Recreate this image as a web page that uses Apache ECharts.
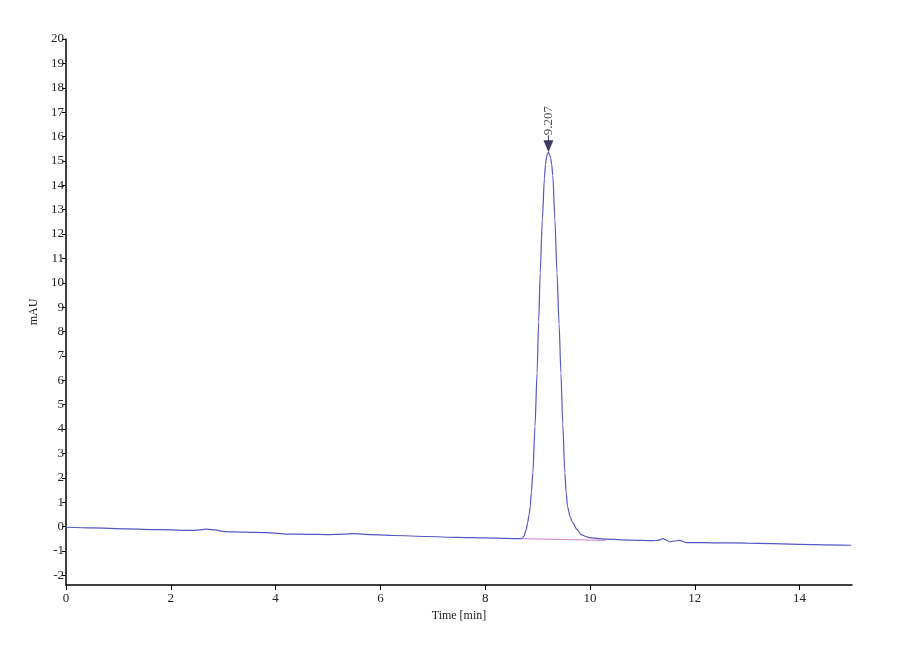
<!DOCTYPE html>
<html>
<head>
<meta charset="utf-8">
<script src="https://cdn.jsdelivr.net/npm/echarts@6/dist/echarts.min.js"></script>
<style>
html,body{margin:0;padding:0;background:#ffffff;}
#chart{width:900px;height:660px;}
</style>
</head>
<body>
<div id="chart"></div>
<script>
// Chromatogram signal (time in min, absorbance in mAU)
const timeMin = [
  0, 0.5, 1.16, 1.8, 2.43, 2.55, 2.66, 2.8, 3.04, 3.4, 3.84, 4.22, 4.6, 4.98, 5.3, 5.49, 5.7, 6.26, 6.9, 7.47, 8.0, 8.4, 8.65,
  8.70, 8.74, 8.78, 8.81, 8.84, 8.86, 8.88, 8.91, 8.95, 8.99, 9.02, 9.05, 9.09, 9.13, 9.15, 9.17, 9.19, 9.207,
  9.225, 9.25, 9.27, 9.29, 9.33, 9.37, 9.41, 9.445, 9.48, 9.52, 9.545, 9.57, 9.62, 9.67, 9.75, 9.83, 9.92, 10.0, 10.15, 10.3,
  10.78, 11.2, 11.3, 11.39, 11.45, 11.52, 11.6, 11.70, 11.84, 12.4, 13.0, 14.0, 14.98
];
const signalMAU = [
  -0.03, -0.06, -0.10, -0.13, -0.16, -0.14, -0.11, -0.13, -0.21, -0.23, -0.25, -0.31, -0.32, -0.33, -0.31, -0.29, -0.32, -0.37, -0.41, -0.45, -0.47, -0.49, -0.50,
  -0.50, -0.40, -0.15, 0.16, 0.50, 0.83, 1.4, 2.2, 4.1, 6.3, 8.4, 10.4, 12.6, 14.3, 14.85, 15.15, 15.3, 15.35,
  15.3, 15.1, 14.85, 14.4, 12.6, 10.4, 8.3, 6.3, 4.2, 2.2, 1.4, 0.83, 0.40, 0.16, -0.12, -0.33, -0.41, -0.46, -0.50, -0.52,
  -0.56, -0.58, -0.57, -0.50, -0.55, -0.63, -0.60, -0.57, -0.66, -0.67, -0.68, -0.73, -0.77
];
// Integration baseline under the peak
const baseTime = [8.72, 10.3];
const baseValue = [-0.50, -0.57];
// Peak annotation
const peakTime = 9.207;
const peakValue = 15.35;
const peakLabel = '9.207';
// Tick labels
const yTicks = [-2,-1,0,1,2,3,4,5,6,7,8,9,10,11,12,13,14,15,16,17,18,19,20];
const xTicks = [0,2,4,6,8,10,12,14];

const serif = '"Liberation Serif", "DejaVu Serif", serif';
const chart = echarts.init(document.getElementById('chart'));
const signal = timeMin.map((t,i)=>[t, signalMAU[i]]);
const baseline = baseTime.map((t,i)=>[t, baseValue[i]]);

chart.setOption({
  animation: false,
  backgroundColor: '#ffffff',
  grid: {left: 66, right: 48, top: 39, bottom: 75},
  xAxis: {
    type: 'value', min: 0, max: 15,
    name: 'Time [min]', nameLocation: 'middle', nameGap: 20,
    nameTextStyle: {fontFamily: serif, fontSize: 12, color: '#222'},
    axisLine: {show: true, onZero: false, lineStyle: {color: '#000', width: 1.5}},
    axisTick: {show: true, length: 5, customValues: xTicks, lineStyle: {color: '#000'}},
    axisLabel: {customValues: xTicks, fontFamily: serif, fontSize: 13, color: '#222', margin: 7},
    splitLine: {show: false}
  },
  yAxis: {
    type: 'value', min: -2.4, max: 20,
    name: 'mAU', nameLocation: 'middle', nameGap: 15, nameRotate: 90,
    nameTextStyle: {fontFamily: serif, fontSize: 12, color: '#222'},
    axisLine: {show: true, onZero: false, lineStyle: {color: '#000', width: 1.5}},
    axisTick: {show: true, length: 4, customValues: yTicks, lineStyle: {color: '#000'}},
    axisLabel: {customValues: yTicks, fontFamily: serif, fontSize: 13, color: '#222', margin: 2},
    splitLine: {show: false}
  },
  series: [
    {
      type: 'line', data: baseline, symbol: 'none',
      lineStyle: {color: '#d27ec4', width: 1}, z: 1
    },
    {
      type: 'line', data: signal, symbol: 'none', smooth: 0.25, smoothMonotone: 'x',
      lineStyle: {color: '#5656c4', width: 1.2}, z: 2
    },
    {
      type: 'scatter', data: [[peakTime, peakValue]],
      symbol: 'triangle', symbolRotate: 180, symbolSize: [10, 12], symbolOffset: [0, -6],
      itemStyle: {color: '#0a0a3a'}, z: 3,
      label: {
        show: true, formatter: peakLabel, position: 'top', distance: 5,
        rotate: 90, align: 'left', verticalAlign: 'middle',
        fontFamily: serif, fontSize: 13, color: '#222'
      }
    },
    {
      type: 'scatter', data: [[peakTime, peakValue]],
      symbol: 'rect', symbolSize: [1, 6], symbolOffset: [0, -14],
      itemStyle: {color: '#0a0a3a'}, z: 3
    }
  ]
});
</script>
</body>
</html>
